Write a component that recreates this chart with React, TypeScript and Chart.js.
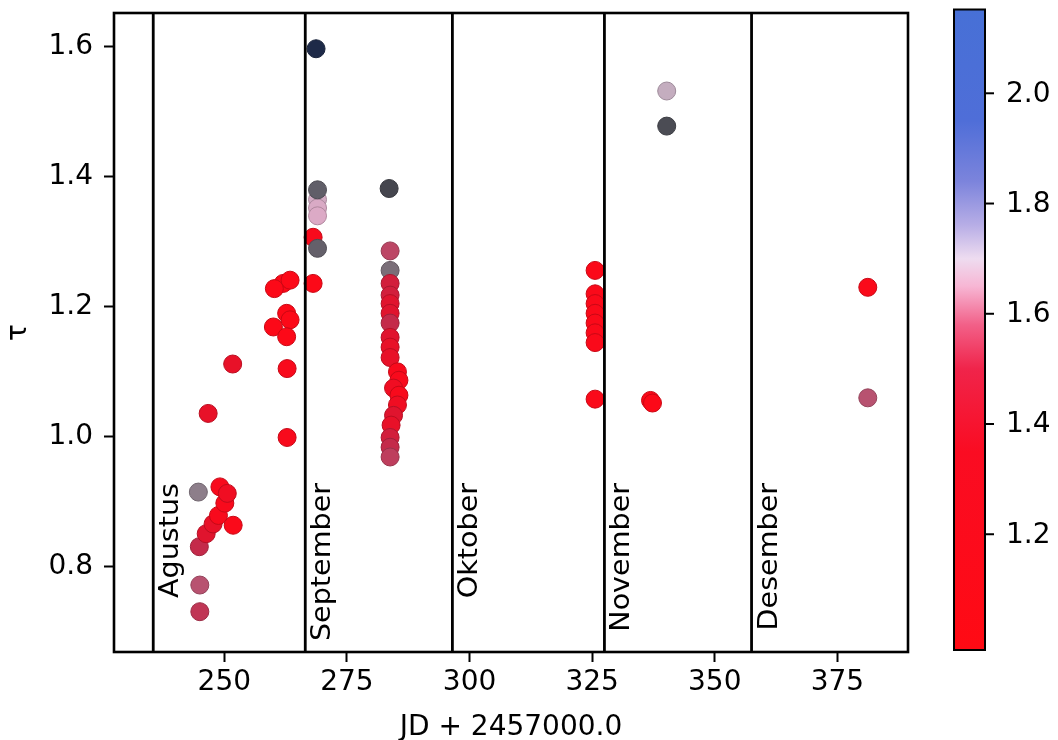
import React, { useEffect, useRef } from 'react';
import { Chart, registerables } from 'chart.js';

Chart.register(...registerables);

// ---- data ----
const jd = [
  245.0, 245.0, 244.9, 246.3, 247.7, 248.8, 250.1, 251.8, 249.1, 250.6, 244.7, 246.7, 251.7,
  262.8, 262.8, 260.0, 262.7, 263.4, 262.7, 262.0, 263.4, 260.2,
  268.7, 269.0, 269.0, 269.0, 269.0, 268.1, 269.0, 268.1,
  283.6, 283.8, 283.8, 283.8, 283.8, 283.8, 283.8, 283.8, 283.8, 283.8, 283.8,
  285.3, 285.6, 284.5, 285.6, 285.3, 284.5, 284.0, 283.8, 283.8, 283.8,
  325.6, 325.6, 325.6, 325.6, 325.6, 325.6, 325.6, 325.6,
  336.9, 337.3, 340.2, 340.2, 381.2, 381.2,
];
const tau = [
  0.731, 0.772, 0.831, 0.851, 0.866, 0.879, 0.898, 0.864, 0.923, 0.913, 0.915, 1.036, 1.112,
  0.999, 1.105, 1.169, 1.19, 1.18, 1.154, 1.236, 1.241, 1.228,
  1.597, 1.365, 1.352, 1.34, 1.38, 1.307, 1.29, 1.236,
  1.382, 1.286, 1.256, 1.236, 1.218, 1.205, 1.19, 1.175, 1.153, 1.138, 1.122,
  1.1, 1.087, 1.075, 1.064, 1.049, 1.033, 1.018, 0.999, 0.984, 0.969,
  1.256, 1.22, 1.205, 1.19, 1.175, 1.16, 1.145, 1.058,
  1.056, 1.052, 1.532, 1.478, 1.23, 1.06,
];
const colorValue = [
  1.48, 1.55, 1.45, 1.35, 1.3, 1.2, 1.2, 1.15, 1.2, 1.25, 1.78, 1.3, 1.3,
  1.2, 1.2, 1.1, 1.1, 1.1, 1.1, 1.1, 1.1, 1.1,
  2.1, 1.68, 1.66, 1.65, 1.88, 1.2, 1.87, 1.1,
  1.97, 1.52, 1.8, 1.4, 1.4, 1.35, 1.35, 1.45, 1.35, 1.3, 1.3,
  1.2, 1.2, 1.25, 1.2, 1.25, 1.35, 1.3, 1.4, 1.45, 1.5,
  1.12, 1.15, 1.15, 1.15, 1.15, 1.15, 1.15, 1.15,
  1.1, 1.1, 1.72, 1.95, 1.15, 1.55,
];
const monthBoundaries = [235.5, 266.5, 296.5, 327.5, 357.5];
const monthNames = ['Agustus', 'September', 'Oktober', 'November', 'Desember'];
const monthLabelTop = 0.929;
const xTicks = [250, 275, 300, 325, 350, 375];
const yTicks = [0.8, 1.0, 1.2, 1.4, 1.6];
const cbTicks = [1.2, 1.4, 1.6, 1.8, 2.0];

const X_MIN = 227.5;
const X_MAX = 389.4;
const Y_MIN = 0.669;
const Y_MAX = 1.652;
const CB_MIN = 0.99;
const CB_MAX = 2.152;

// ---- colormaps ----
type Stop = [number, string];
const pointStops: Stop[] = [
  [1.0, '#ff0814'], [1.2, '#f80a1c'], [1.35, '#e0142e'], [1.45, '#c42a4a'], [1.55, '#b85270'],
  [1.65, '#dcaac6'], [1.72, '#c4adbf'], [1.8, '#7a6e78'], [1.9, '#5a5a64'], [2.0, '#3c3e44'], [2.1, '#1e2a48'],
];
const barStops: Stop[] = [
  [0.99, '#ff0a14'], [1.35, '#fa0c22'], [1.5, '#f0244a'], [1.58, '#f26088'], [1.65, '#f7b6d4'],
  [1.7, '#eedcf0'], [1.76, '#b8aee6'], [1.84, '#7c84dc'], [1.95, '#4f6ed8'], [2.152, '#4770d6'],
];

function hexRgb(h: string): number[] {
  const n = parseInt(h.slice(1), 16);
  return [(n >> 16) & 255, (n >> 8) & 255, n & 255];
}
function mapColor(stops: Stop[], v: number, dark = 1): string {
  let c = hexRgb(stops[stops.length - 1][1]);
  if (v <= stops[0][0]) c = hexRgb(stops[0][1]);
  else {
    for (let i = 0; i < stops.length - 1; i++) {
      const [v0, h0] = stops[i];
      const [v1, h1] = stops[i + 1];
      if (v >= v0 && v <= v1) {
        const t = (v - v0) / (v1 - v0);
        const a = hexRgb(h0), b = hexRgb(h1);
        c = a.map((q, k) => q + (b[k] - q) * t);
        break;
      }
    }
  }
  return `rgb(${c.map((q) => Math.round(q * dark)).join(',')})`;
}

const FONT = 'DejaVu Sans';

const decorPlugin = {
  id: 'decor',
  afterDatasetsDraw(chart: any) {
    const { ctx, chartArea: a, scales } = chart;
    const xs = scales.x, ys = scales.y;
    ctx.save();
    // month labels
    ctx.fillStyle = '#000';
    ctx.font = `26px "${FONT}"`;
    monthBoundaries.forEach((b, i) => {
      const px = xs.getPixelForValue(b) + 25;
      const py = ys.getPixelForValue(monthLabelTop);
      ctx.save();
      ctx.translate(px, py);
      ctx.rotate(-Math.PI / 2);
      ctx.scale(1.1, 1);
      ctx.textAlign = 'right';
      ctx.textBaseline = 'alphabetic';
      ctx.fillText(monthNames[i], 0, 0);
      ctx.restore();
    });
    // frame
    ctx.strokeStyle = '#000';
    ctx.lineWidth = 2.6;
    ctx.strokeRect(a.left, a.top, a.right - a.left, a.bottom - a.top);

    // colorbar
    const cbL = 954, cbR = 985, cbT = 9.5, cbB = 650;
    const cy = (v: number) => cbB - ((v - CB_MIN) / (CB_MAX - CB_MIN)) * (cbB - cbT);
    const g = ctx.createLinearGradient(0, cbB, 0, cbT);
    barStops.forEach(([v, h]) => g.addColorStop((v - CB_MIN) / (CB_MAX - CB_MIN), h));
    ctx.fillStyle = g;
    ctx.fillRect(cbL, cbT, cbR - cbL, cbB - cbT);
    ctx.lineWidth = 2;
    ctx.strokeRect(cbL, cbT, cbR - cbL, cbB - cbT);
    ctx.font = `28px "${FONT}"`;
    ctx.fillStyle = '#000';
    ctx.textAlign = 'left';
    ctx.textBaseline = 'middle';
    cbTicks.forEach((v) => {
      const yy = cy(v);
      ctx.beginPath();
      ctx.moveTo(cbR, yy);
      ctx.lineTo(cbR + 9, yy);
      ctx.stroke();
      ctx.fillText(v.toFixed(1), cbR + 21, yy + 1);
    });
    ctx.restore();
  },
};

export default function App() {
  const ref = useRef<HTMLCanvasElement>(null);
  useEffect(() => {
    document.body.style.margin = '0';
    const pts = jd.map((x, i) => ({ x, y: tau[i] }));
    const fills = colorValue.map((c) => mapColor(pointStops, c));
    const edges = colorValue.map((c) => mapColor(pointStops, c, 0.8));
    const lineSets = monthBoundaries.map((b) => ({
      type: 'scatter' as const,
      data: [{ x: b, y: Y_MIN }, { x: b, y: Y_MAX }],
      showLine: true,
      borderColor: '#000',
      borderWidth: 2.8,
      pointRadius: 0,
      pointHoverRadius: 0,
      order: 0,
    }));
    const chart = new Chart(ref.current as HTMLCanvasElement, {
      type: 'scatter',
      data: {
        datasets: [
          {
            data: pts,
            backgroundColor: fills,
            borderColor: edges,
            borderWidth: 1,
            pointRadius: 9,
            pointHoverRadius: 9,
            order: 1,
          } as any,
          ...lineSets,
        ],
      },
      options: {
        animation: false,
        responsive: false,
        events: [],
        layout: { autoPadding: false, padding: { left: 0, right: 150, top: 13, bottom: 0 } } as any,
        plugins: { legend: { display: false }, tooltip: { enabled: false } },
        scales: {
          x: {
            type: 'linear',
            min: X_MIN,
            max: X_MAX,
            afterBuildTicks: (s: any) => { s.ticks = xTicks.map((v) => ({ value: v })); },
            afterFit: (s: any) => { s.height = 88; s.paddingLeft = 0; s.paddingRight = 0; },
            grid: { drawOnChartArea: false, drawTicks: true, tickLength: 10, tickWidth: 2, tickColor: '#000' },
            border: { display: false },
            ticks: { color: '#000', font: { family: FONT, size: 28 }, padding: 4, maxRotation: 0, callback: (v: any) => String(v) },
            title: { display: true, text: 'JD + 2457000.0', color: '#000', font: { family: FONT, size: 28 }, padding: { top: 0, bottom: -5 } },
          },
          y: {
            type: 'linear',
            min: Y_MIN,
            max: Y_MAX,
            afterBuildTicks: (s: any) => { s.ticks = yTicks.map((v) => ({ value: v })); },
            afterFit: (s: any) => { s.width = 114; s.paddingTop = 0; s.paddingBottom = 0; },
            grid: { drawOnChartArea: false, drawTicks: true, tickLength: 10, tickWidth: 2, tickColor: '#000' },
            border: { display: false },
            ticks: { color: '#000', font: { family: FONT, size: 28 }, padding: 11, callback: (v: any) => Number(v).toFixed(1) },
            title: { display: true, text: 'τ', color: '#000', font: { family: FONT, size: 28 }, padding: { top: 2, bottom: 0 } },
          },
        },
      } as any,
      plugins: [decorPlugin],
    });
    return () => chart.destroy();
  }, []);
  return (
    <div style={{ position: 'absolute', left: 0, top: 0, width: 1058, height: 740, background: '#fff' }}>
      <canvas ref={ref} width={1058} height={740} style={{ display: 'block', width: 1058, height: 740 }} />
    </div>
  );
}
